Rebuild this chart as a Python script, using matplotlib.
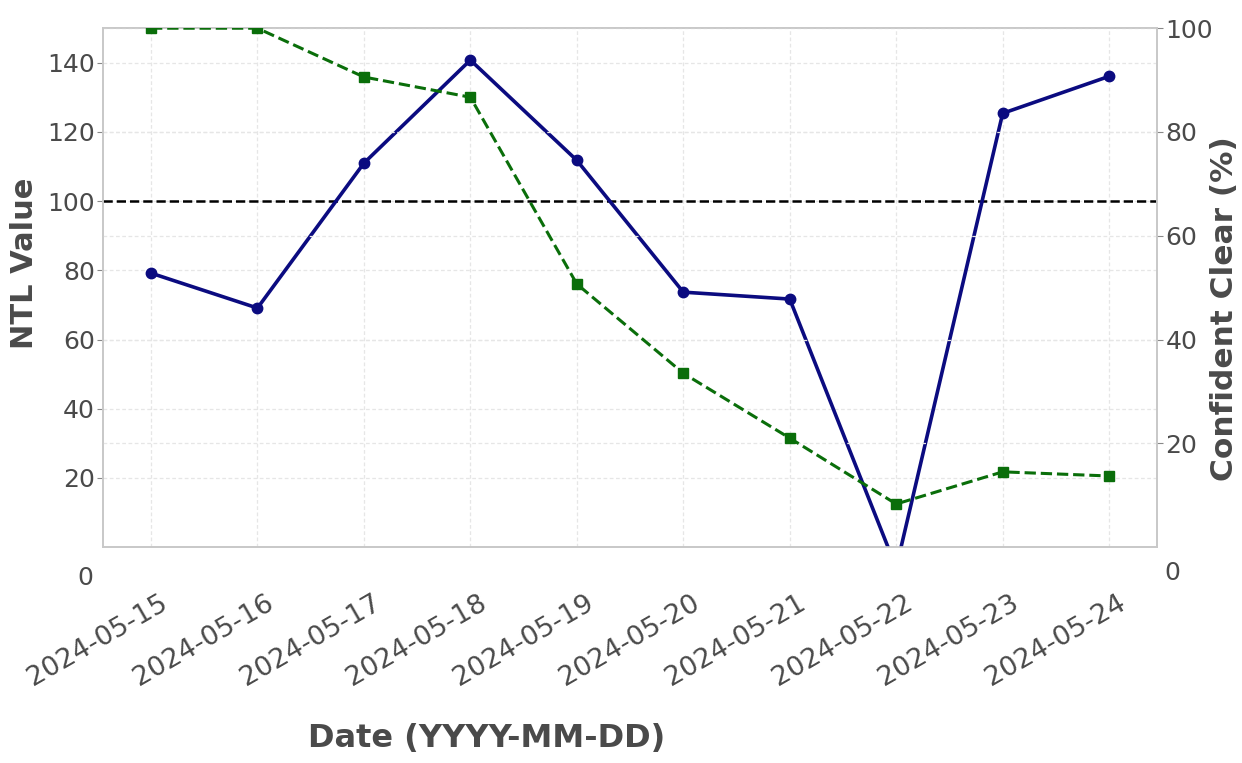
import matplotlib
matplotlib.use("Agg")
import matplotlib.pyplot as plt
from matplotlib.transforms import ScaledTranslation

# data
dates = ["2024-05-15", "2024-05-16", "2024-05-17", "2024-05-18", "2024-05-19",
         "2024-05-20", "2024-05-21", "2024-05-22", "2024-05-23", "2024-05-24"]
ntl_values = [79.2, 69.1, 111.0, 140.8, 111.8, 73.7, 71.7, -6.0, 125.4, 136.1]
clear_pct = [100.0, 100.0, 90.6, 86.7, 50.7, 33.5, 21.0, 8.3, 14.5, 13.7]
threshold = 100

left_ticks = [20, 40, 60, 80, 100, 120, 140]
right_ticks = [20, 40, 60, 80, 100]

plt.rcParams['font.family'] = ['DejaVu Sans']
text_col = '#4a4a4a'
grid_col = '#e6e6e6'

fig = plt.figure(figsize=(12.42, 7.63), dpi=100)
ax = fig.add_axes([0.083, 0.283, 0.8486, 0.680])
ax2 = ax.twinx()

ax.plot(dates, ntl_values, color='#0b0b80', marker='o', markersize=7.5, linewidth=2.6, zorder=3)
ax.axhline(threshold, color='black', linestyle='--', linewidth=1.8, zorder=2)
ax2.plot(dates, clear_pct, color='#0a6e0a', marker='s', markersize=7.5, linewidth=2.2,
         linestyle='--', zorder=3)

ax.set_ylim(0, 150)
ax2.set_ylim(0, 100)
ax.set_yticks(left_ticks)
ax2.set_yticks(right_ticks)

# grids from both axes
ax.grid(True, axis='both', color=grid_col, linestyle=(0, (3, 2)), linewidth=0.9)
ax2.grid(True, axis='y', color=grid_col, linestyle=(0, (3, 2)), linewidth=0.9)
ax.set_axisbelow(True)
ax2.set_axisbelow(True)

for a in (ax, ax2):
    for sp in a.spines.values():
        sp.set_color('#c8c8c8')
        sp.set_linewidth(1.2)
    a.tick_params(colors='#888888', labelcolor=text_col, labelsize=18, length=4, pad=2)

ax.tick_params(axis='x', labelsize=19.5, length=0)
shift = ScaledTranslation(0.08, -0.40, fig.dpi_scale_trans)
for lbl in ax.get_xticklabels():
    lbl.set_rotation(30)
    lbl.set_ha('right')
    lbl.set_va('top')
    lbl.set_rotation_mode('anchor')
    lbl.set_transform(lbl.get_transform() + shift)

# the zero labels sit below the axes in the reference
ax.annotate('0', xy=(0, 0), xycoords=('axes fraction', 'data'), xytext=(-13, -22),
            textcoords='offset points', ha='center', va='center',
            fontsize=18, color=text_col)
ax2.annotate('0', xy=(1, 0), xycoords=('axes fraction', 'data'), xytext=(11, -19),
             textcoords='offset points', ha='center', va='center',
             fontsize=18, color=text_col)

ax.set_xlabel('Date (YYYY-MM-DD)', fontsize=23, fontweight='bold', color=text_col)
ax.xaxis.set_label_coords(0.364, -0.34)
ax.set_ylabel('NTL Value', fontsize=22, fontweight='bold', color=text_col)
ax.yaxis.set_label_coords(-0.061, 0.547)
ax2.set_ylabel('Confident Clear (%)', fontsize=22.5, fontweight='bold', color=text_col)
ax2.yaxis.set_label_coords(1.05, 0.46)

fig.savefig('out.png', dpi=100)
